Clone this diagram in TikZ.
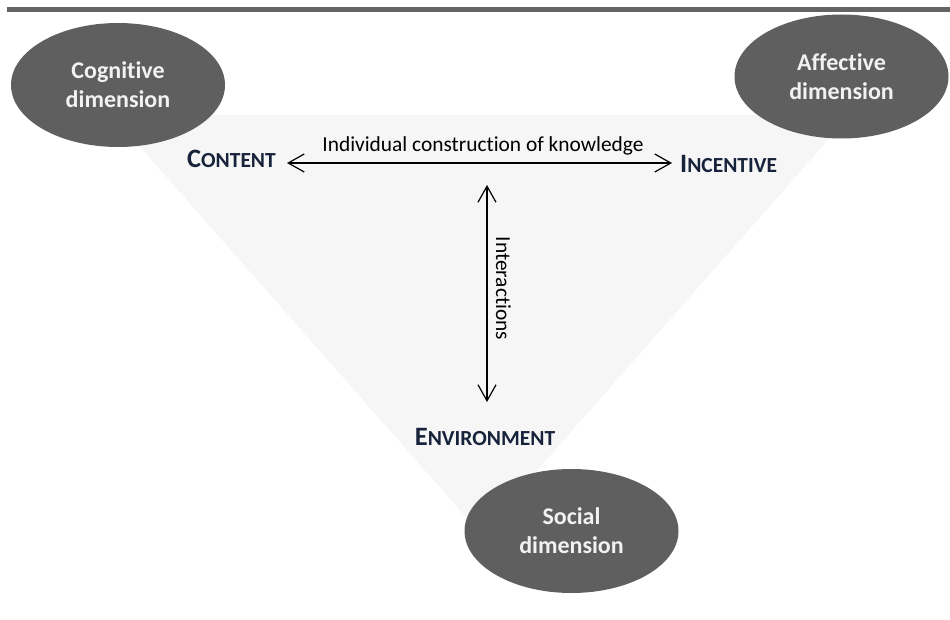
\documentclass[tikz,border=0pt]{standalone}
\usepackage{fontspec}
\setmainfont{Carlito}[Ligatures={NoCommon,NoRare,NoDiscretionary}]
\usetikzlibrary{shapes.geometric,arrows.meta}
\definecolor{bar}{HTML}{646464}
\definecolor{ellfill}{HTML}{5F5F5F}
\definecolor{trifill}{HTML}{F6F6F7}
\definecolor{navy}{HTML}{17233A}
\definecolor{elltext}{HTML}{F2F2F2}
\tikzset{
  dimension/.style={ellipse, fill=ellfill, minimum width=214pt, minimum height=124pt, inner sep=0pt,
    text=elltext, align=center, font=\fontsize{24}{29}\selectfont\bfseries},
  pole/.style={text=navy, inner sep=0pt, font=\bfseries},
  label/.style={inner sep=0pt, font=\fontsize{21.4}{24}\selectfont},
  link/.style={line width=1.2pt, {Straight Barb[length=16pt,width=18pt]}-{Straight Barb[length=16pt,width=18pt]}},
}
\newcommand{\capsw}[2]{{\fontsize{26.5}{28}\selectfont #1}{\fontsize{21.5}{28}\selectfont #2}}
\begin{document}
\begin{tikzpicture}[x=1pt,y=-1pt]
\useasboundingbox (0,0) rectangle (950,620);
\fill[bar] (7,7) rectangle (950,12);
\fill[trifill] (112,115) -- (850,115) -- (481,534) -- cycle;
\node[dimension] (cog) at (118,85) {Cognitive\\dimension};
\node[dimension] (aff) at (841.5,76.5) {Affective\\dimension};
\node[dimension] (soc) at (571.5,531) {Social\\dimension};
\node[pole, anchor=base east] (content) at (276,168) {\capsw{C}{ONTENT}};
\node[pole, anchor=base west] (incentive) at (680,173) {\capsw{I}{NCENTIVE}};
\node[pole, anchor=base] (environment) at (485,445) {\capsw{E}{NVIRONMENT}};
\coordinate (hl) at (287,163);
\coordinate (hr) at (672,163);
\coordinate (vt) at (487,185);
\coordinate (vb) at (487,402);
\draw[link] (hl) -- (hr);
\draw[link] (vt) -- (vb);
\node[label, anchor=base] (indiv) at (483,152) {Individual construction of knowledge};
\node[label, rotate=-90] (inter) at (503.5,288.5) {Interactions};
\end{tikzpicture}
\end{document}
